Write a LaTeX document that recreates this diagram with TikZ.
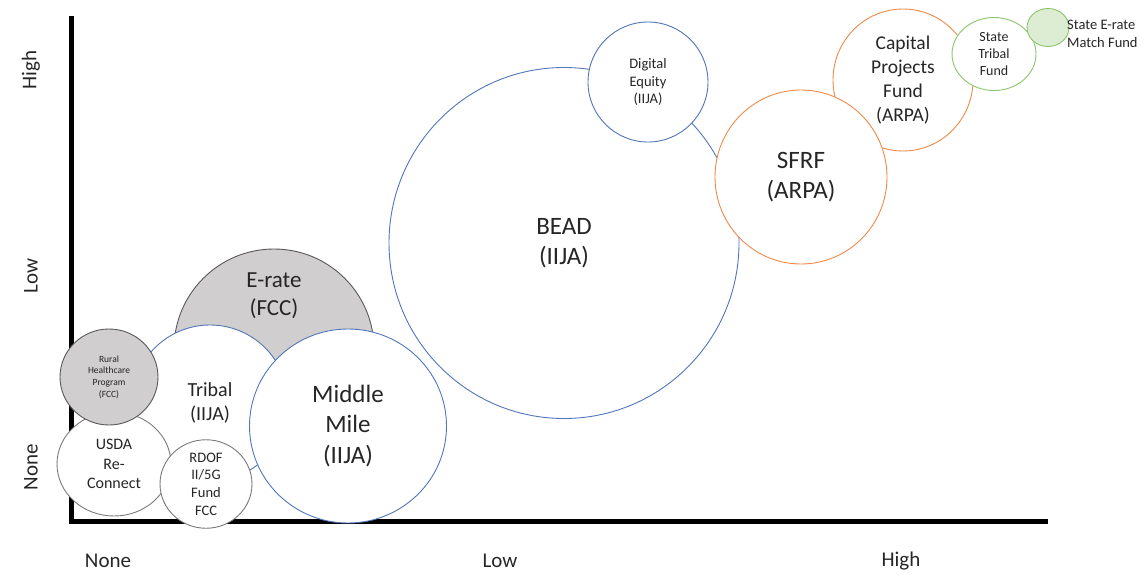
\documentclass[tikz,border=0pt]{standalone}
\usepackage{fontspec}
\setmainfont{Carlito}
\usetikzlibrary{shapes.geometric}
\definecolor{blueln}{HTML}{5276BA}
\definecolor{orangeln}{HTML}{F08A4B}
\definecolor{greenln}{HTML}{8CC46E}
\definecolor{greenfill}{HTML}{DDEDD3}
\definecolor{grayfill}{HTML}{D0CECE}
\definecolor{grayln}{HTML}{595959}
\newcommand{\fs}[1]{\fontsize{#1}{\dimexpr #1pt*122/100\relax}\selectfont}
\tikzset{
  bub/.style={ellipse, draw, fill=white, line width=0.9pt, inner sep=0pt, align=center, text=black!85},
  bblue/.style={bub, draw=blueln},
  borange/.style={bub, draw=orangeln},
  bgreen/.style={bub, draw=greenln},
  bgray/.style={bub, draw=grayln, fill=grayfill},
  bwhite/.style={bub, draw=grayln!80},
  lbl/.style={align=center, inner sep=0pt, text=black!85},
  axis/.style={line width=5pt},
}
\begin{document}
\begin{tikzpicture}[x=1pt,y=-1pt]
\useasboundingbox (0,0) rectangle (1144,576);
% axes
\coordinate (ytop) at (71,16);
\coordinate (orig) at (71,521);
\coordinate (xend) at (1048,521);
\draw[axis] (ytop) -- ([yshift=-2.5pt]orig.center) ;
\draw[axis] ([xshift=-2.5pt]orig) -- (xend);
% axis labels
\node[lbl, font=\fs{21}] (xnone) at (108,561) {None};
\node[lbl, font=\fs{21}] (xlow) at (500,561) {Low};
\node[lbl, font=\fs{21}] (xhigh) at (901,561) {High};
\node[lbl, font=\fs{21}, rotate=90] (yhigh) at (31,70) {High};
\node[lbl, font=\fs{21}, rotate=90] (ylow) at (31,276) {Low};
\node[lbl, font=\fs{21}, rotate=90] (ynone) at (31,467) {None};
% big blue
\node[bblue, minimum width=350pt, minimum height=351pt, font=\fs{25}] (bead) at (564,243) {BEAD\\(IIJA)};
\node[bblue, minimum width=120pt, minimum height=120pt, font=\fs{14.5}] (de) at (648,82) {Digital\\Equity\\(IIJA)};
% orange
\node[borange, minimum width=140pt, minimum height=142pt, font=\fs{19.5}] (cpf) at (903,80) {Capital\\Projects\\Fund\\(ARPA)};
\node[borange, minimum width=172pt, minimum height=174pt, font=\fs{25}] (sfrf) at (801,177) {SFRF\\(ARPA)};
% green
\node[bgreen, minimum width=84pt, minimum height=73pt, font=\fs{14}] (stf) at (994,54) {State\\Tribal\\Fund};
\node[bgreen, fill=greenfill, minimum width=42pt, minimum height=38pt] (serm) at (1048,27.5) {};
\node[lbl, align=left, anchor=west, font=\fs{14.5}] (sermt) at (1067,34) {State E-rate\\Match Fund};
% left cluster
\node[bgray, minimum width=200pt, minimum height=200pt] (erate) at (274,349) {};
\node[lbl, font=\fs{23}] (eratet) at (274,296) {E-rate\\(FCC)};
\node[bblue, minimum width=156pt, minimum height=156pt, font=\fs{20}] (tribal) at (210,403) {Tribal\\(IIJA)};
\node[bwhite, minimum width=114pt, minimum height=104pt, font=\fs{16}] (usda) at (114,464) {USDA\\Re-\\Connect};
\node[bgray, minimum width=98pt, minimum height=96pt, font=\fs{9.5}] (rural) at (109,377) {Rural\\Healthcare\\Program\\(FCC)};
\node[bwhite, minimum width=92pt, minimum height=68pt, font=\fs{14.5}] (rdof) at (206,484) {RDOF\\II/5G\\Fund\\FCC};
\node[bblue, minimum width=197pt, minimum height=194pt, font=\fs{25}] (mm) at (348,426) {Middle\\Mile\\(IIJA)};
\end{tikzpicture}
\end{document}
